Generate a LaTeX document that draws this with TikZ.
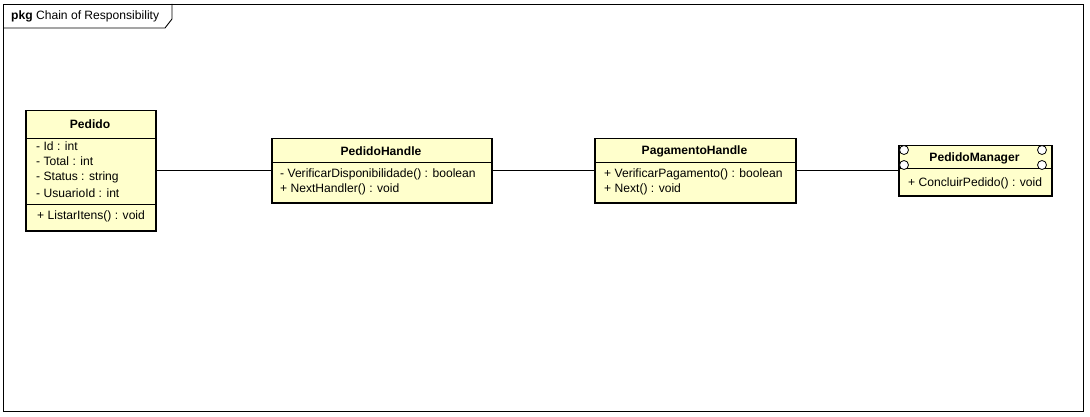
\documentclass[tikz,border=0pt]{standalone}
\usepackage{fontspec}
\setmainfont{Liberation Sans}
\usepackage{tikz}
\usetikzlibrary{calc}
\definecolor{classfill}{HTML}{FFFFCC}

\begin{document}
\begin{tikzpicture}[x=1pt, y=-1pt, font=\fontsize{12.1}{14}\selectfont,
  classbox/.style={draw, line width=1.5pt, fill=classfill, inner sep=0pt, anchor=north west},
  member/.style={anchor=west, inner sep=0pt},
  classname/.style={inner sep=0pt, font=\fontsize{12.1}{14}\selectfont\bfseries},
  sepline/.style={line width=0.8pt},
  assoc/.style={line width=0.9pt}]
\useasboundingbox (0,0) rectangle (1090,417);
% package frame and its tab
\draw[line width=0.9pt] (3,4) rectangle (1083,411);
\draw[line width=0.9pt] (3,28) -- (165,28) -- (172,19) -- (172,4);
\node[member] (pkg) at (11,16) {\textbf{pkg} Chain of Responsibility};
% Pedido
\node[classbox, minimum width=130, minimum height=120] (pedido) at (25,110) {};
\node[classname] (pedidoname) at (90,124) {Pedido};
\draw[sepline] (25,138) -- (155,138);
\foreach \i/\t in {0/- Id : int,1/- Total : int,2/- Status : string,3/- UsuarioId : int}{
  \node[member] (pedidoattr\i) at (36,146+\i*15.6) {\t};
}
\draw[sepline] (25,204) -- (155,204);
\node[member] (pedidoop) at (37,216) {+ ListarItens() : void};
% PedidoHandle
\node[classbox, minimum width=220, minimum height=64] (handle) at (271,138) {};
\node[classname] (handlename) at (381,151) {PedidoHandle};
\draw[sepline] (271,162) -- (491,162);
\node[member] (handleop1) at (280,174) {- VerificarDisponibilidade() : boolean};
\node[member] (handleop2) at (280,189) {+ NextHandler() : void};
% PagamentoHandle
\node[classbox, minimum width=201, minimum height=64] (pagamento) at (594,138) {};
\node[classname] (pagamentoname) at (694.5,151) {PagamentoHandle};
\draw[sepline] (594,162) -- (795,162);
\node[member] (pagamentoop1) at (604,174) {+ VerificarPagamento() : boolean};
\node[member] (pagamentoop2) at (604,189) {+ Next() : void};
% PedidoManager (active class with ports)
\node[classbox, minimum width=153, minimum height=50] (manager) at (898,145) {};
\node[classname] (managername) at (974.5,158) {PedidoManager};
\draw[sepline] (898,168) -- (1051,168);
\node[member] (managerop) at (908,183) {+ ConcluirPedido() : void};
\foreach \cx in {904,1042}{
  \foreach \cy in {150,165}{
    \draw[line width=0.8pt, fill=white] (\cx,\cy) circle (4.5);
  }
}
% chain links
\draw[assoc] (pedido.east) -- (handle.west);
\draw[assoc] (handle.east) -- (pagamento.west);
\draw[assoc] (pagamento.east) -- (manager.west);
\end{tikzpicture}
\end{document}
